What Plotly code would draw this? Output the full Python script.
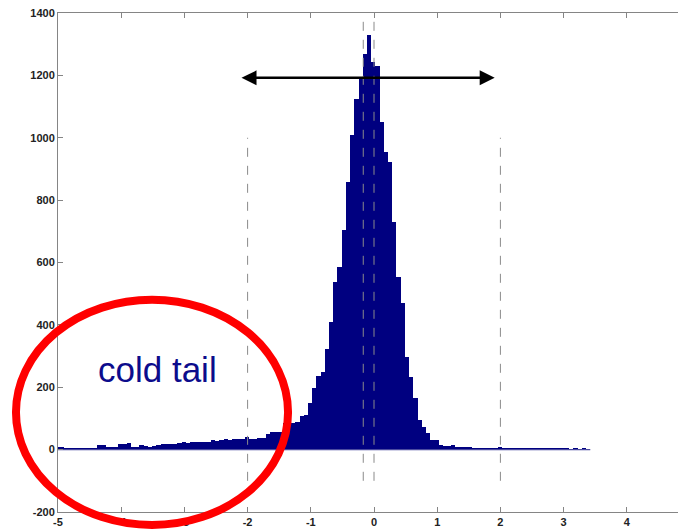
import plotly.graph_objects as go

# ---- data ----
bin_start = -5.0447          # left edge of first histogram bin
bin_width = 1 / 15           # histogram bin width
counts = [
    7, 8, 5, 5, 6, 6, 5, 5, 6, 6, 15, 14, 7, 7, 8, 17, 18, 21, 9, 10,
    15, 11, 10, 12, 14, 17, 18, 17, 19, 22, 23, 22, 23, 24, 23, 24, 26, 30, 29, 31,
    33, 32, 34, 33, 35, 41, 33, 34, 36, 38, 50, 56, 57, 58, 84, 85, 86, 88, 108, 110,
    150, 197, 236, 250, 322, 410, 538, 586, 704, 857, 1008, 1124, 1195, 1270, 1329, 1243, 1230, 1051, 955, 923,
    730, 554, 469, 298, 234, 164, 95, 73, 52, 31, 30, 14, 12, 12, 16, 8, 8, 8, 7, 6,
    6, 6, 6, 6, 6, 8, 5, 5, 4, 5, 4, 5, 4, 5, 3, 4, 5, 3, 4, 3,
    4, 3, 2, 3, 2, 3, 2,
]
bin_centers = [bin_start + (i + 0.5) * bin_width for i in range(len(counts))]

# dashed reference lines: x position, y bottom, y top
vline_x = [-2, -0.17, 0, 2]
vline_y0 = [-100, -100, -100, -100]
vline_y1 = [1000, 1400, 1400, 1000]

# double arrow (width of the distribution)
arrow_x = [-2.12, 1.91]
arrow_y = 1192

# annotation
label_text = "cold tail"
label_pos = (-3.42, 258)

x_ticks = [-5, -4, -3, -2, -1, 0, 1, 2, 3, 4]
x_ticklabels = ["-5", "-4", "-3", "-2", "-1", "0", "1", "2", "3", "4"]
y_ticks = [-200, 0, 200, 400, 600, 800, 1000, 1200, 1400]
y_ticklabels = ["-200", "0", "200", "400", "600", "800", "1000", "1200", "1400"]

NAVY = "#000080"
GRID = "#858585"

fig = go.Figure()

fig.add_trace(go.Bar(
    x=bin_centers, y=counts, width=bin_width,
    marker=dict(color=NAVY, line=dict(width=0)),
    showlegend=False, hoverinfo="skip",
))

# baseline of histogram
fig.add_trace(go.Scatter(
    x=[bin_centers[0] - bin_width / 2, bin_centers[-1] + bin_width / 2], y=[0, 0],
    mode="lines", line=dict(color="#4a4aa0", width=1.3),
    showlegend=False, hoverinfo="skip",
))

for xv, y0, y1 in zip(vline_x, vline_y0, vline_y1):
    fig.add_trace(go.Scatter(
        x=[xv, xv], y=[y0, y1], mode="lines",
        line=dict(color="#8a8a8a", width=1, dash="dash"),
        showlegend=False, hoverinfo="skip",
    ))

# double headed arrow
fig.add_annotation(
    x=arrow_x[1], y=arrow_y, ax=arrow_x[0], ay=arrow_y,
    xref="x", yref="y", axref="x", ayref="y",
    text="", showarrow=True, arrowhead=2, startarrowhead=2,
    arrowside="end+start", arrowwidth=2.5, arrowsize=1.2, startarrowsize=1.2,
    arrowcolor="black",
)

fig.add_annotation(
    x=label_pos[0], y=label_pos[1], xref="x", yref="y",
    text=label_text, showarrow=False,
    font=dict(family="Liberation Sans, Arial, sans-serif", size=35, color="#0c0c8c"),
)

# red ellipse (drawn in paper coordinates so it may leave the axes box)
fig.add_shape(
    type="circle", xref="paper", yref="paper",
    x0=-0.0665, x1=0.364, y0=-0.026, y1=0.4255,
    line=dict(color="#ff0000", width=8), layer="above",
)

tickfont = dict(family="Liberation Sans, Arial, sans-serif", size=11, color="#222222", weight="bold")

# page has an 8px body margin: plot box spans screen x 58..690, y 13..512
fig.update_layout(
    width=694, height=530,
    margin=dict(l=50, r=12, t=5, b=26, pad=0),
    paper_bgcolor="white", plot_bgcolor="white",
    bargap=0, showlegend=False,
    xaxis=dict(
        range=[-5, 5], tickvals=x_ticks, ticktext=x_ticklabels,
        showgrid=False, zeroline=False,
        showline=True, linecolor=GRID, linewidth=1, mirror="ticks",
        ticks="inside", ticklen=5, tickcolor=GRID, tickwidth=1,
        tickfont=tickfont, automargin=False, ticklabeloverflow="allow",
    ),
    yaxis=dict(
        range=[-200, 1400], tickvals=y_ticks, ticktext=y_ticklabels,
        showgrid=False, zeroline=False,
        showline=True, linecolor=GRID, linewidth=1, mirror="ticks",
        ticks="inside", ticklen=5, tickcolor=GRID, tickwidth=1,
        tickfont=tickfont, automargin=False, ticklabeloverflow="allow",
    ),
)

fig.write_html("out.html")
